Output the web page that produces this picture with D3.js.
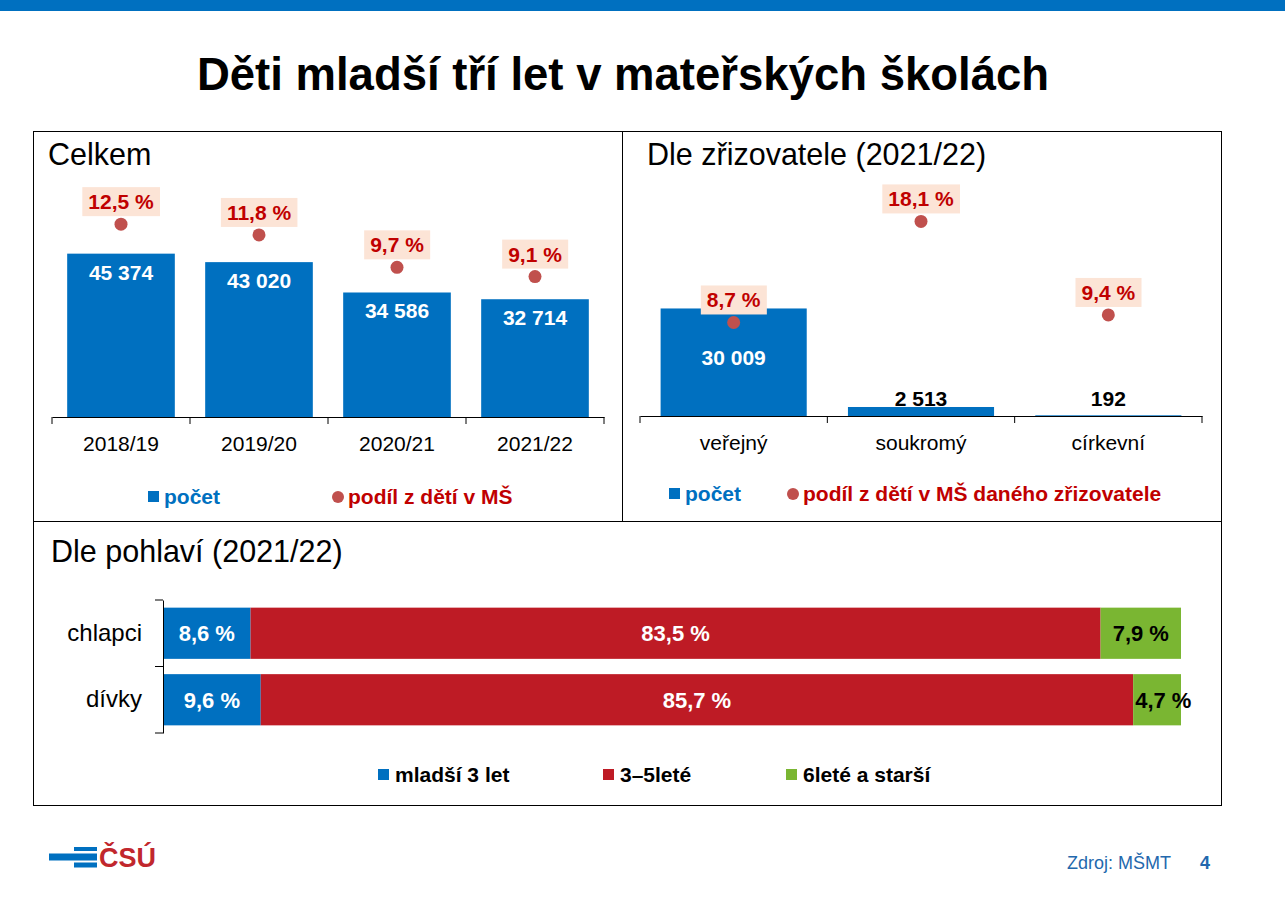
<!DOCTYPE html>
<html>
<head>
<meta charset="utf-8">
<script src="https://cdn.jsdelivr.net/npm/d3@7"></script>
<style>
  body { margin: 0; background: #fff; }
  svg { display: block; font-family: "Liberation Sans", Arial, sans-serif; }
</style>
</head>
<body>
<svg id="chart"></svg>
<script>
// data
const years = ["2018/19", "2019/20", "2020/21", "2021/22"];
const yearCounts = [45374, 43020, 34586, 32714];
const yearShares = [12.5, 11.8, 9.7, 9.1];

const founders = ["veřejný", "soukromý", "církevní"];
const founderCounts = [30009, 2513, 192];
const founderShares = [8.7, 18.1, 9.4];

const sexes = ["chlapci", "dívky"];
const ageGroups = ["mladší 3 let", "3–5leté", "6leté a starší"];
const shareUnder3 = [8.6, 9.6];
const share3to5 = [83.5, 85.7];
const share6plus = [7.9, 4.7];

const width = 1285, height = 901;
const blue = "#0070c0", red = "#be1b25", green = "#7ab632";
const dotColor = "#c0504d", pctText = "#c00000", pctBox = "#fce4d6";

const cz = d3.formatLocale({ decimal: ",", thousands: " ", grouping: [3], currency: ["", " Kč"] });
const fmtCount = cz.format(",d");
const fmtPct = d => cz.format(".1f")(d) + " %";

const svg = d3.select("#chart")
    .attr("width", width)
    .attr("height", height);

// top band + title
svg.append("rect").attr("x", 0).attr("y", 0).attr("width", width).attr("height", 11).attr("fill", blue);
svg.append("text")
    .attr("x", 623).attr("y", 90)
    .attr("text-anchor", "middle")
    .style("font-size", "45.5px").style("font-weight", "bold")
    .text("Děti mladší tří let v mateřských školách");

// frame
svg.append("rect").attr("x", 33.5).attr("y", 131.5).attr("width", 1188).attr("height", 674)
    .attr("fill", "none").attr("stroke", "#000");
svg.append("line").attr("x1", 622.5).attr("x2", 622.5).attr("y1", 131).attr("y2", 521).attr("stroke", "#000");
svg.append("line").attr("x1", 33).attr("x2", 1221).attr("y1", 521.5).attr("y2", 521.5).attr("stroke", "#000");

function panelTitle(x, y, txt) {
    svg.append("text").attr("x", x).attr("y", y)
        .style("font-size", "30.5px")
        .text(txt);
}

panelTitle(48, 165, "Celkem");
panelTitle(647, 165, "Dle zřizovatele (2021/22)");
panelTitle(51, 562, "Dle pohlaví (2021/22)");

// bars (count) + dots (share) on one category axis
function comboChart(cats, counts, shares, opt) {
    const g = svg.append("g");
    const x = d3.scaleBand().domain(cats).range(opt.xRange).paddingInner(0.22).paddingOuter(0.11);
    const yCount = d3.scaleLinear().domain([0, 60000]).range([opt.base, 201]);
    const yPct = d3.scaleLinear().domain([0, opt.pctMax]).range([opt.base, 201]);

    const rows = cats.map((c, i) => ({ cat: c, count: counts[i], share: shares[i] }));

    g.selectAll("rect.bar").data(rows).enter().append("rect")
        .attr("class", "bar")
        .attr("x", d => x(d.cat))
        .attr("y", d => yCount(d.count))
        .attr("width", x.bandwidth())
        .attr("height", d => opt.base - yCount(d.count))
        .attr("fill", blue);

    g.selectAll("text.val").data(rows).enter().append("text")
        .attr("class", "val")
        .attr("x", d => x(d.cat) + x.bandwidth() / 2)
        .attr("y", d => {
            const top = yCount(d.count);
            if (opt.labelPos === "top") return top + 26;
            return opt.base - top > 50 ? (top + opt.base) / 2 + 3 : opt.base - 10;
        })
        .attr("text-anchor", "middle")
        .attr("fill", d => (opt.base - yCount(d.count) > 50 ? "#fff" : "#000"))
        .style("font-size", "21px").style("font-weight", "bold")
        .text(d => fmtCount(d.count));

    // axis with ticks between categories
    const axis = g.append("g")
        .attr("transform", `translate(0,${opt.base})`)
        .call(d3.axisBottom(x).tickSizeInner(0).tickSizeOuter(0).tickPadding(19));
    axis.select(".domain").attr("stroke", "#000");
    axis.selectAll("text").style("font-size", "21px").style("font-family", "Liberation Sans, Arial, sans-serif").attr("fill", "#000");
    const bounds = cats.map(c => x(c) - x.step() * x.paddingInner() / 2).concat([opt.xRange[1]]);
    g.selectAll("line.tk").data(bounds).enter().append("line")
        .attr("x1", d => d).attr("x2", d => d)
        .attr("y1", opt.base).attr("y2", opt.base + 7)
        .attr("stroke", "#000");

    // share labels
    const lab = g.selectAll("g.pct").data(rows).enter().append("g").attr("class", "pct");
    const txt = lab.append("text")
        .attr("x", d => x(d.cat) + x.bandwidth() / 2)
        .attr("y", d => yPct(d.share) - 15)
        .attr("text-anchor", "middle")
        .attr("fill", pctText)
        .style("font-size", "21px").style("font-weight", "bold")
        .text(d => fmtPct(d.share));
    txt.each(function () {
        const b = this.getBBox();
        d3.select(this.parentNode).insert("rect", "text")
            .attr("x", b.x - 6).attr("y", +d3.select(this).attr("y") - 22)
            .attr("width", b.width + 12).attr("height", 29)
            .attr("fill", pctBox);
    });

    g.selectAll("circle.dot").data(rows).enter().append("circle")
        .attr("class", "dot")
        .attr("cx", d => x(d.cat) + x.bandwidth() / 2)
        .attr("cy", d => yPct(d.share))
        .attr("r", 6.5)
        .attr("fill", dotColor);
}

comboChart(years, yearCounts, yearShares, { xRange: [52, 604], base: 417, pctMax: 14, labelPos: "top" });
comboChart(founders, founderCounts, founderShares, { xRange: [640, 1202], base: 416, pctMax: 20, labelPos: "mid" });

function comboLegend(sqX, dotX, textY, shareLabel) {
    svg.append("rect").attr("x", sqX).attr("y", textY - 13).attr("width", 11).attr("height", 11).attr("fill", blue);
    svg.append("text").attr("x", sqX + 16).attr("y", textY)
        .attr("fill", blue).style("font-size", "21px").style("font-weight", "bold").text("počet");
    svg.append("circle").attr("cx", dotX).attr("cy", textY - 7).attr("r", 6).attr("fill", dotColor);
    svg.append("text").attr("x", dotX + 10).attr("y", textY)
        .attr("fill", pctText).style("font-size", "21px").style("font-weight", "bold").text(shareLabel);
}
comboLegend(148, 338, 504, "podíl z dětí v MŠ");
comboLegend(669, 793, 501, "podíl z dětí v MŠ daného zřizovatele");

// stacked 100 % bars by sex
const sexRows = sexes.map((s, i) => ({ sex: s, a: shareUnder3[i], b: share3to5[i], c: share6plus[i] }));
const keys = ["a", "b", "c"];
const segColor = d3.scaleOrdinal().domain(keys).range([blue, red, green]);
const segText = d3.scaleOrdinal().domain(keys).range(["#fff", "#fff", "#000"]);
const stacked = d3.stack().keys(keys)(sexRows);

const xs = d3.scaleLinear().domain([0, 100]).range([163, 1181]);
const ys = d3.scaleBand().domain(sexes).range([600, 733]).paddingInner(0.23).paddingOuter(0.115);

const sg = svg.append("g");
const layer = sg.selectAll("g.layer").data(stacked).enter().append("g").attr("class", "layer");
layer.selectAll("rect").data(d => d.map(p => ({ key: d.key, p }))).enter().append("rect")
    .attr("x", d => xs(d.p[0]))
    .attr("y", d => ys(d.p.data.sex))
    .attr("width", d => xs(d.p[1]) - xs(d.p[0]))
    .attr("height", ys.bandwidth())
    .attr("fill", d => segColor(d.key));
layer.selectAll("text").data(d => d.map(p => ({ key: d.key, p }))).enter().append("text")
    .attr("x", d => {
        const w = xs(d.p[1]) - xs(d.p[0]);
        // narrow segment: label starts at the segment edge, like the slide
        return w < 60 ? xs(d.p[0]) + 2 : (xs(d.p[0]) + xs(d.p[1])) / 2;
    })
    .attr("y", d => ys(d.p.data.sex) + ys.bandwidth() / 2 + 8)
    .attr("text-anchor", d => (xs(d.p[1]) - xs(d.p[0]) < 60 ? "start" : "middle"))
    .attr("fill", d => segText(d.key))
    .style("font-size", "22px").style("font-weight", "bold")
    .text(d => fmtPct(d.p[1] - d.p[0]));

const yAxis = sg.append("g")
    .attr("transform", "translate(163,0)")
    .call(d3.axisLeft(ys).tickSizeInner(0).tickSizeOuter(0).tickPadding(21));
yAxis.select(".domain").attr("stroke", "#000");
yAxis.selectAll("text").style("font-size", "24px").style("font-family", "Liberation Sans, Arial, sans-serif").attr("fill", "#000");
const yBounds = sexes.map(s => ys(s) - ys.step() * ys.paddingInner() / 2).concat([733]);
sg.selectAll("line.tk").data(yBounds).enter().append("line")
    .attr("x1", 155).attr("x2", 163)
    .attr("y1", d => d).attr("y2", d => d)
    .attr("stroke", "#000");

const legX = [378, 603, 786];
ageGroups.forEach((name, i) => {
    svg.append("rect").attr("x", legX[i]).attr("y", 769).attr("width", 11).attr("height", 11).attr("fill", segColor(keys[i]));
    svg.append("text").attr("x", legX[i] + 17).attr("y", 782)
        .style("font-size", "21px").style("font-weight", "bold").text(name);
});

// footer
const logo = svg.append("g");
logo.append("rect").attr("x", 74).attr("y", 847).attr("width", 23).attr("height", 4).attr("fill", blue);
logo.append("rect").attr("x", 49).attr("y", 853.5).attr("width", 48).attr("height", 7).attr("fill", blue);
logo.append("rect").attr("x", 74).attr("y", 862.5).attr("width", 23).attr("height", 5).attr("fill", blue);
logo.append("text").attr("x", 99).attr("y", 867)
    .attr("fill", "#c1272d").style("font-size", "27px").style("font-weight", "bold").text("ČSÚ");

svg.append("text").attr("x", 1067).attr("y", 869)
    .attr("fill", "#2368ad").style("font-size", "18px").text("Zdroj: MŠMT");
svg.append("text").attr("x", 1200).attr("y", 869)
    .attr("fill", "#2368ad").style("font-size", "18px").style("font-weight", "bold").text("4");
</script>
</body>
</html>
